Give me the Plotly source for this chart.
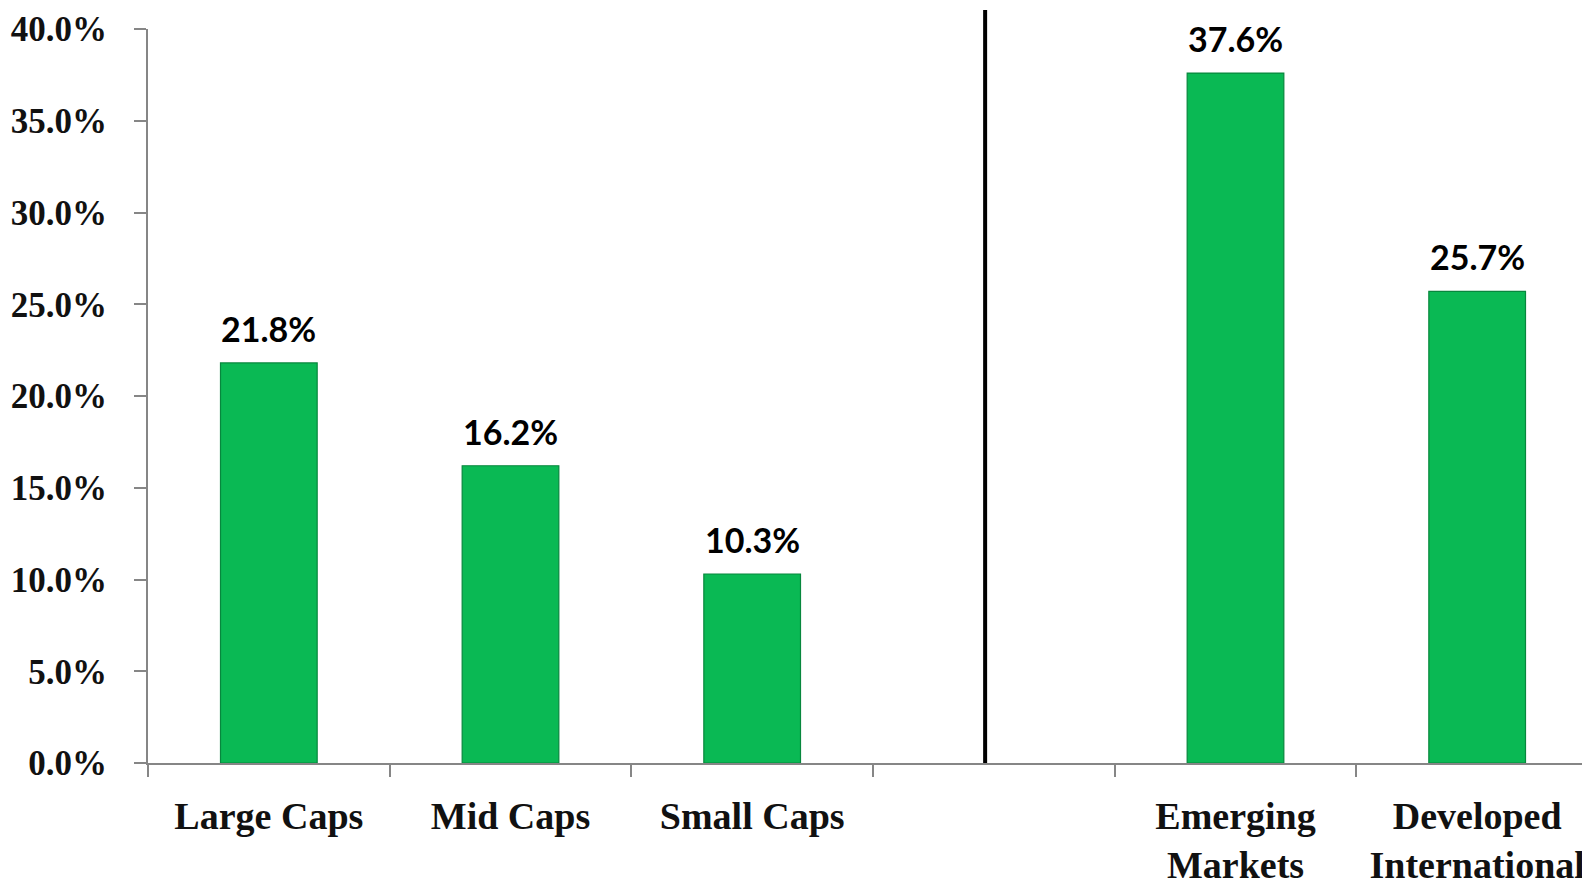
import plotly.graph_objects as go

categories = ["Large Caps", "Mid Caps", "Small Caps", " ", "Emerging<br>Markets", "Developed<br>International"]
values = [21.8, 16.2, 10.3, None, 37.6, 25.7]
labels = ["21.8%", "16.2%", "10.3%", "", "37.6%", "25.7%"]
y_ticks = [0, 5, 10, 15, 20, 25, 30, 35, 40]
y_ticktext = [f"{v:.1f}%" for v in y_ticks]
separator_x = 2.964

GREEN = "#0AB954"
AXIS = "#868686"
SERIF = "Liberation Serif"

fig = go.Figure()
fig.add_trace(go.Bar(
    x=categories, y=values, width=0.4,
    marker=dict(color=GREEN, line=dict(color="#07873d", width=1.2)),
    hoverinfo="skip",
))

for c, v, t in zip(categories, values, labels):
    if v is None:
        continue
    fig.add_annotation(x=c, y=v, text=t, showarrow=False, yanchor="bottom", yshift=12,
                       font=dict(family="Lato", size=34, color="#000000", weight="bold"))

fig.add_shape(type="line", xref="x", yref="paper", x0=separator_x, x1=separator_x, y0=0, y1=1.026,
              line=dict(color="black", width=4))

fig.update_layout(
    width=1590, height=884,
    margin=dict(l=140, r=0, t=21, b=129),
    paper_bgcolor="white", plot_bgcolor="white",
    showlegend=False,
    bargap=0.6,
    xaxis=dict(
        type="category", categoryorder="array", categoryarray=categories,
        range=[-0.5, 5.5],
        showline=True, linecolor=AXIS, linewidth=2,
        ticks="outside", tickson="boundaries", ticklen=12, tickcolor=AXIS, tickwidth=2,
        tickfont=dict(family=SERIF, size=38, color="#111111", weight="bold"),
        ticklabelstandoff=18,
        showgrid=False, zeroline=False,
    ),
    yaxis=dict(
        range=[0, 40], tickvals=y_ticks, ticktext=y_ticktext,
        showline=True, linecolor=AXIS, linewidth=2,
        ticks="outside", ticklen=12, tickcolor=AXIS, tickwidth=2,
        tickfont=dict(family=SERIF, size=35, color="#111111", weight="bold"),
        ticklabelstandoff=20,
        showgrid=False, zeroline=False,
    ),
)

fig.write_html("out.html")
